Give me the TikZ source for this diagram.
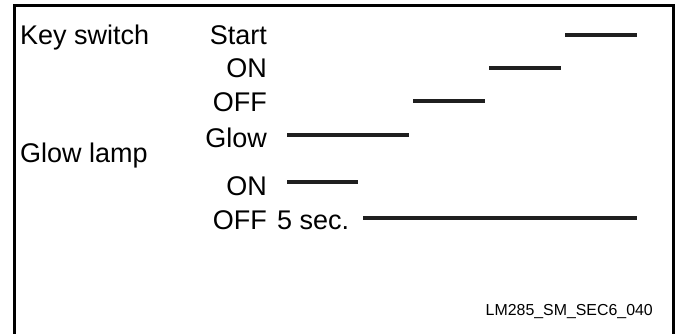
\documentclass[tikz,border=0pt]{standalone}
\usepackage{fontspec}
\setmainfont{Liberation Sans}
\usepackage{tikz}
\usetikzlibrary{positioning}

\begin{document}
\begin{tikzpicture}[
    x=1pt, y=-1pt,
    font=\fontsize{27}{32}\selectfont,
    lbl/.style={inner sep=0pt, anchor=base east},
    head/.style={inner sep=0pt, anchor=base west},
    bar/.style={line width=4pt, draw=black!88}
]
\useasboundingbox (0,0) rectangle (680,334);
% Frame (open at the bottom)
\draw[line width=3pt] (14,340) -- (14,6) -- (673,6) -- (673,340);

% Nodes
\node[head] (key) at (20,45) {Key switch};
\node[lbl] (start) at (267,45) {Start};
\node[lbl] (kon) at (267,78) {ON};
\node[lbl] (koff) at (267,112) {OFF};
\node[lbl] (glow) at (267,147) {Glow};
\node[head] (lamp) at (20,162) {Glow lamp};
\node[lbl] (lon) at (267,195) {ON};
\node[lbl] (loff) at (267,229) {OFF};
\node[head] (sec) at (277,229) {5 sec.};
\node[anchor=base east, inner sep=0pt, font=\fontsize{15.9}{19}\selectfont] (code) at (653,315) {LM285\_SM\_SEC6\_040};

% Bars
\draw[bar] (565,35) -- (637,35);
\draw[bar] (489,68) -- (561,68);
\draw[bar] (413,101.5) -- (485,101.5);
\draw[bar] (287,135) -- (409,135);
\draw[bar] (287,182) -- (358,182);
\draw[bar] (363,218) -- (637,218);
\end{tikzpicture}
\end{document}
